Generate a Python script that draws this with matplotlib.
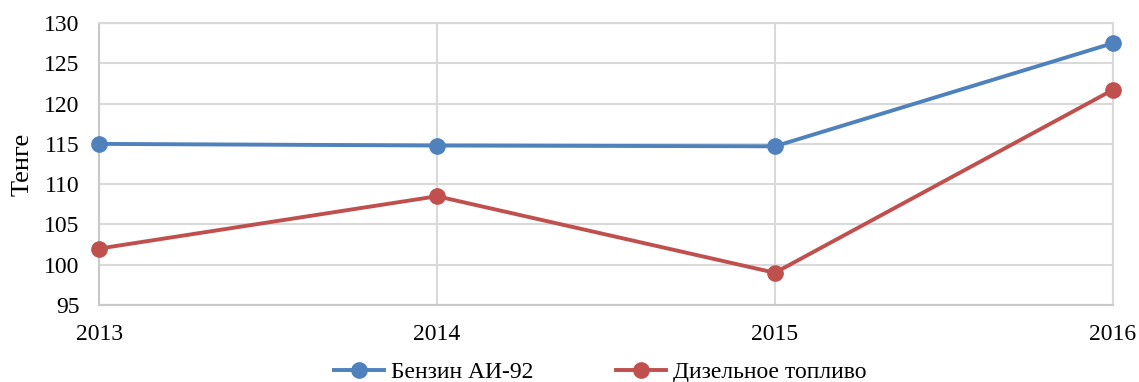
import matplotlib.pyplot as plt

years = ['2013', '2014', '2015', '2016']
benzin = [115.0, 114.8, 114.7, 127.5]
dizel = [102.0, 108.5, 99.0, 121.7]
yticks = [95, 100, 105, 110, 115, 120, 125, 130]

plt.rcParams['font.family'] = ['Liberation Serif', 'DejaVu Serif']

fig = plt.figure(figsize=(11.39, 3.82), dpi=100)
ax = fig.add_axes([0.087, 0.2016, 0.890, 0.738])

x = range(len(years))
ax.plot(x, benzin, color='#4f81bd', lw=2.8, marker='o', ms=11, label='Бензин АИ-92', clip_on=False, zorder=3)
ax.plot(x, dizel, color='#c0504d', lw=2.8, marker='o', ms=11, label='Дизельное топливо', clip_on=False, zorder=3)

ax.set_xlim(0, len(years) - 1)
ax.set_ylim(95, 130)
ax.set_yticks(yticks)
ax.set_xticks(list(x))
ax.set_xticklabels(years)
ax.tick_params(length=0, labelsize=17, colors='black')
ax.tick_params(axis='x', pad=14)
ax.tick_params(axis='y', pad=14)
ax.grid(color='#d9d9d9', lw=1.5)
for s in ax.spines.values():
    s.set_color('#d9d9d9')
    s.set_linewidth(1.5)
ax.spines['left'].set_color('#c8c8c8')
ax.spines['bottom'].set_color('#c8c8c8')
ax.set_ylabel('Тенге', fontsize=19, labelpad=8)

fig.legend(loc='center', bbox_to_anchor=(0.527, 0.025), ncol=2, frameon=False,
           fontsize=17, handlelength=2.1, columnspacing=3.5, handletextpad=0.3)

fig.savefig('out.png', dpi=100)
